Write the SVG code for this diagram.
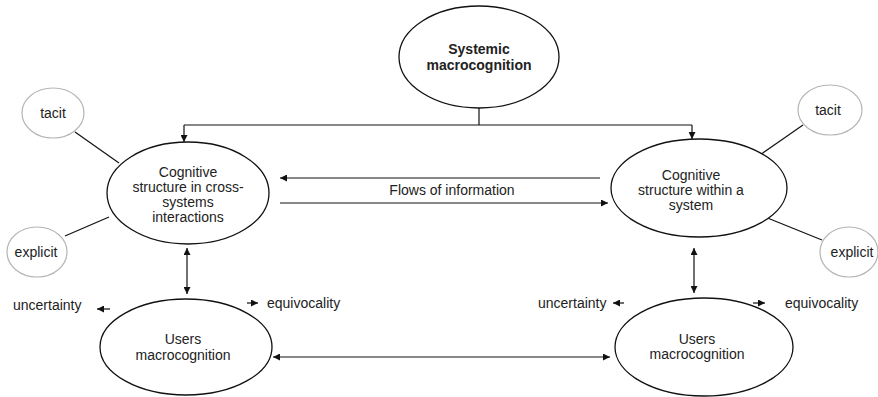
<svg xmlns="http://www.w3.org/2000/svg" width="878" height="397" viewBox="0 0 878 397">
  <style>
    text { font-family: "Liberation Sans", Arial, sans-serif; font-size: 14px; fill: #222; text-anchor: middle; }
    .bold { font-weight: bold; }
    .main { fill: #fff; stroke: #111; stroke-width: 1.3; }
    .know { fill: #fff; stroke: #b5b5b5; stroke-width: 1.2; }
    .link { fill: none; stroke: #111; stroke-width: 1.2; }
    .left { text-anchor: start; }
  </style>
  <defs>
    <marker id="head" viewBox="0 0 10 10" refX="10" refY="5" markerWidth="7" markerHeight="7" markerUnits="userSpaceOnUse" orient="auto-start-reverse">
      <path d="M0,0 L10,5 L0,10 Z" fill="#111"/>
    </marker>
  </defs>

  <!-- connectors -->
  <g id="connectors">
    <!-- systemic node feeds both cognitive structures -->
    <path class="link" d="M479,108 V125"/>
    <path class="link" d="M184,125 H692"/>
    <path class="link" d="M184,125 V142" marker-end="url(#head)"/>
    <path class="link" d="M692,125 V139" marker-end="url(#head)"/>
    <!-- flows of information -->
    <path class="link" d="M600,178 H280" marker-end="url(#head)"/>
    <path class="link" d="M280,203 H608" marker-end="url(#head)"/>
    <!-- knowledge links -->
    <path class="link" d="M75,132 L119,163"/>
    <path class="link" d="M65,236 L109,217"/>
    <path class="link" d="M760,155 L803,125"/>
    <path class="link" d="M765,217 L822,240"/>
    <!-- cognitive structure to users -->
    <path class="link" d="M187,248 V294" marker-start="url(#head)" marker-end="url(#head)"/>
    <path class="link" d="M694,248 V293" marker-start="url(#head)" marker-end="url(#head)"/>
    <!-- users to users -->
    <path class="link" d="M273,357 H610" marker-start="url(#head)" marker-end="url(#head)"/>
    <!-- uncertainty / equivocality -->
    <path class="link" d="M110,309 H97" marker-end="url(#head)"/>
    <path class="link" d="M247,303 H258" marker-end="url(#head)"/>
    <path class="link" d="M624,303 H613" marker-end="url(#head)"/>
    <path class="link" d="M753,303 H765" marker-end="url(#head)"/>
  </g>

  <g id="systemic">
    <ellipse class="main" cx="479" cy="57" rx="80" ry="51"/>
    <text class="bold" x="479" y="54">Systemic</text>
    <text class="bold" x="479" y="70">macrocognition</text>
  </g>

  <g id="cognitive-cross">
    <ellipse class="main" cx="188" cy="193" rx="81" ry="51"/>
    <text x="188" y="177">Cognitive</text>
    <text x="188" y="192">structure in cross-</text>
    <text x="188" y="207">systems</text>
    <text x="188" y="222">interactions</text>
  </g>

  <g id="cognitive-within">
    <ellipse class="main" cx="699" cy="188" rx="88" ry="49"/>
    <text x="691" y="180">Cognitive</text>
    <text x="691" y="195">structure within a</text>
    <text x="691" y="210">system</text>
  </g>

  <g id="tacit-left">
    <ellipse class="know" cx="53" cy="113" rx="31" ry="25"/>
    <text x="53" y="118">tacit</text>
  </g>

  <g id="explicit-left">
    <ellipse class="know" cx="37" cy="252" rx="30" ry="25"/>
    <text x="36" y="257">explicit</text>
  </g>

  <g id="tacit-right">
    <ellipse class="know" cx="830" cy="110" rx="32" ry="25"/>
    <text x="828" y="115">tacit</text>
  </g>

  <g id="explicit-right">
    <ellipse class="know" cx="849" cy="252" rx="29" ry="25"/>
    <text x="852" y="257">explicit</text>
  </g>

  <g id="users-left">
    <ellipse class="main" cx="186" cy="347" rx="86" ry="48"/>
    <text x="183" y="344">Users</text>
    <text x="183" y="360">macrocognition</text>
  </g>

  <g id="users-right">
    <ellipse class="main" cx="704" cy="347" rx="89" ry="49"/>
    <text x="697" y="344">Users</text>
    <text x="697" y="359">macrocognition</text>
  </g>

  <g id="labels">
    <text x="452" y="195">Flows of information</text>
    <text class="left" x="13" y="310">uncertainty</text>
    <text class="left" x="267" y="308">equivocality</text>
    <text class="left" x="538" y="308">uncertainty</text>
    <text class="left" x="785" y="308">equivocality</text>
  </g>
</svg>
